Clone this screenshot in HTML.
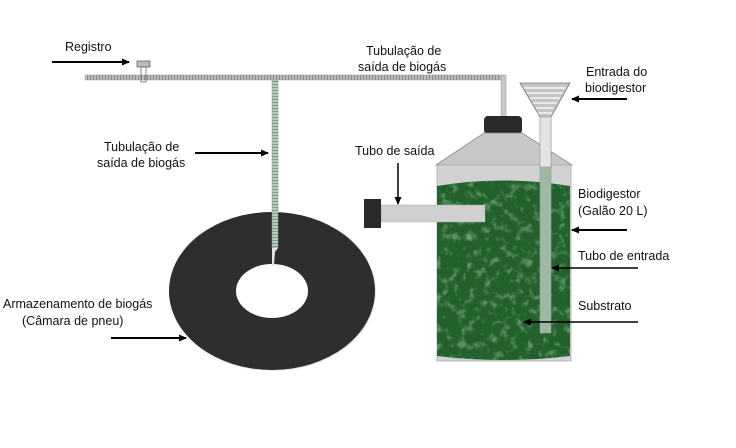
<!DOCTYPE html>
<html><head><meta charset="utf-8"><style>
html,body{margin:0;padding:0;background:#fff;}
svg{display:block}
text{font-family:"Liberation Sans",Arial,sans-serif;font-size:12.5px;fill:#111}
</style></head><body>
<svg width="736" height="448" viewBox="0 0 736 448" xmlns="http://www.w3.org/2000/svg">
<defs>
<marker id="ar" markerWidth="8" markerHeight="8" refX="7" refY="4" orient="auto" markerUnits="userSpaceOnUse">
<path d="M0,0.5 L8,4 L0,7.5 z" fill="#000"/></marker>
<pattern id="hp" width="3" height="5" patternUnits="userSpaceOnUse"><rect width="3" height="5" fill="#bdbdbd"/><rect width="1" height="5" fill="#888"/></pattern>
<pattern id="vp" width="5" height="3" patternUnits="userSpaceOnUse"><rect width="5" height="3" fill="#b9ccbc"/><rect width="5" height="1" fill="#7f9a84"/></pattern>
<filter id="tex"><feTurbulence type="fractalNoise" baseFrequency="0.12" numOctaves="3" seed="3"/><feColorMatrix values="0 0 0 0 0.45  0 0 0 0 0.75  0 0 0 0 0.5  0 0 0 1.4 -0.72"/><feComposite in2="SourceGraphic" operator="in"/></filter>
<clipPath id="gc"><path d="M437,186 Q503,175 570,186 L570,356 Q503,364 437,356 z"/></clipPath>
</defs>
<!-- main pipe -->
<rect x="85" y="75" width="420" height="5" fill="url(#hp)" stroke="#999" stroke-width="0.5"/>
<rect x="501" y="75" width="5" height="42" fill="#c8c8c8" stroke="#999" stroke-width="0.5"/>
<!-- valve -->
<rect x="137" y="61" width="13" height="6" fill="#bbb" stroke="#666" stroke-width="0.8"/>
<rect x="141" y="67" width="5" height="15" fill="none" stroke="#666" stroke-width="0.8"/>
<!-- tire -->
<ellipse cx="273" cy="292" rx="103" ry="79" fill="#e8e8e8"/>
<ellipse cx="272" cy="291" rx="103" ry="79" fill="#2e2e2e"/>
<ellipse cx="272" cy="291" rx="36" ry="27" fill="#fff"/>
<!-- vertical branch -->
<rect x="272" y="80" width="6" height="168" fill="url(#vp)" stroke="#8fa090" stroke-width="0.5"/>
<path d="M272,248 L278,248 L275,252 L274,266 L272,266 z" fill="#e4e4e4"/>
<!-- bottle -->
<rect x="484" y="116" width="38" height="18" rx="4" fill="#2a2a2a"/>
<polygon points="484,133 522,133 572,165 436,165" fill="#c8c8c8" stroke="#888" stroke-width="0.8"/>
<rect x="437" y="165" width="134" height="196" fill="#d2d2d2" stroke="#aaa" stroke-width="0.8"/>
<path d="M437,186 Q503,175 570,186 L570,356 Q503,364 437,356 z" fill="#22602c"/>
<rect x="437" y="170" width="134" height="195" fill="#22602c" filter="url(#tex)" clip-path="url(#gc)"/>
<!-- output tube -->
<rect x="381" y="205" width="104" height="17" fill="#d0d0d0" stroke="#aaa" stroke-width="0.5"/>
<rect x="364" y="199" width="17" height="29" fill="#2a2a2a"/>
<!-- funnel -->
<polygon points="520,83 570,83 551,117 540,117" fill="#c4c4c4" stroke="#777" stroke-width="0.8"/>
<g stroke="#fff" stroke-width="1.2">
<line x1="524" y1="88" x2="566" y2="88"/><line x1="527" y1="93" x2="563" y2="93"/><line x1="530" y1="98" x2="560" y2="98"/><line x1="533" y1="103" x2="557" y2="103"/><line x1="536" y1="108" x2="554" y2="108"/><line x1="538" y1="113" x2="552" y2="113"/></g>
<rect x="540" y="117" width="11" height="216" fill="#9fb8a2" stroke="#999" stroke-width="0.6"/>
<rect x="540" y="117" width="11" height="50" fill="#e4e4e4" stroke="#999" stroke-width="0.6"/>
<!-- labels -->
<text x="65" y="51">Registro</text>
<line x1="52" y1="62" x2="129" y2="62" stroke="#000" stroke-width="2" marker-end="url(#ar)"/>
<text x="366" y="55">Tubulação de</text>
<text x="358" y="71">saída de biogás</text>
<text x="586" y="76">Entrada do</text>
<text x="585" y="92">biodigestor</text>
<line x1="627" y1="99" x2="572" y2="99" stroke="#000" stroke-width="2" marker-end="url(#ar)"/>
<text x="104" y="151">Tubulação de</text>
<text x="97" y="167">saída de biogás</text>
<line x1="195" y1="153" x2="268" y2="153" stroke="#000" stroke-width="2" marker-end="url(#ar)"/>
<text x="355" y="155">Tubo de saída</text>
<line x1="398" y1="163" x2="398" y2="204" stroke="#000" stroke-width="1.5" marker-end="url(#ar)"/>
<text x="578" y="198">Biodigestor</text>
<text x="578" y="215">(Galão 20 L)</text>
<line x1="627" y1="230" x2="572" y2="230" stroke="#000" stroke-width="2" marker-end="url(#ar)"/>
<text x="578" y="260">Tubo de entrada</text>
<line x1="638" y1="268" x2="552" y2="268" stroke="#000" stroke-width="1.5" marker-end="url(#ar)"/>
<text x="578" y="310">Substrato</text>
<line x1="638" y1="322" x2="524" y2="322" stroke="#000" stroke-width="1.5" marker-end="url(#ar)"/>
<text x="3" y="308">Armazenamento de biogás</text>
<text x="22" y="325">(Câmara de pneu)</text>
<line x1="111" y1="338" x2="186" y2="338" stroke="#000" stroke-width="2" marker-end="url(#ar)"/>
</svg>
</body></html>
